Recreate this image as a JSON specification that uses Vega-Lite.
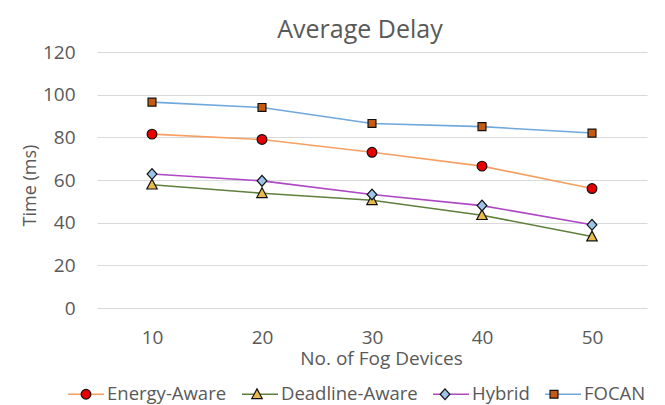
{
  "$schema": "https://vega.github.io/schema/vega-lite/v6.json",
  "width": 550,
  "height": 256,
  "autosize": "none",
  "padding": {"left": 97, "top": 52, "right": 18, "bottom": 97},
  "background": "white",
  "title": {"text": "Average Delay", "fontSize": 25, "font": "Open Sans", "fontWeight": "normal", "color": "#595959", "offset": 0, "dx": -12},
  "data": {"values": [
    {"n": 10, "series": "Energy-Aware", "v": 81.5},
    {"n": 20, "series": "Energy-Aware", "v": 79},
    {"n": 30, "series": "Energy-Aware", "v": 73},
    {"n": 40, "series": "Energy-Aware", "v": 66.5},
    {"n": 50, "series": "Energy-Aware", "v": 56},
    {"n": 10, "series": "Deadline-Aware", "v": 57.8},
    {"n": 20, "series": "Deadline-Aware", "v": 53.8},
    {"n": 30, "series": "Deadline-Aware", "v": 50.5},
    {"n": 40, "series": "Deadline-Aware", "v": 43.5},
    {"n": 50, "series": "Deadline-Aware", "v": 33.5},
    {"n": 10, "series": "Hybrid", "v": 62.8},
    {"n": 20, "series": "Hybrid", "v": 59.6},
    {"n": 30, "series": "Hybrid", "v": 53.2},
    {"n": 40, "series": "Hybrid", "v": 48},
    {"n": 50, "series": "Hybrid", "v": 39},
    {"n": 10, "series": "FOCAN", "v": 96.5},
    {"n": 20, "series": "FOCAN", "v": 94},
    {"n": 30, "series": "FOCAN", "v": 86.5},
    {"n": 40, "series": "FOCAN", "v": 85},
    {"n": 50, "series": "FOCAN", "v": 82}
  ]},
  "encoding": {
    "x": {
      "field": "n", "type": "ordinal",
      "scale": {"type": "point", "padding": 0.5},
      "axis": {"title": "No. of Fog Devices", "labelAngle": 0, "labelFontSize": 19, "labelFont": "Open Sans", "labelColor": "#595959", "labelPadding": 20, "ticks": false, "domain": false, "grid": false, "titleFont": "Open Sans", "titleFontSize": 19, "titleFontWeight": "normal", "titleColor": "#595959", "titlePadding": 2, "titleX": 284}
    },
    "y": {
      "field": "v", "type": "quantitative",
      "scale": {"domain": [0, 120], "nice": false},
      "axis": {"values": [0, 20, 40, 60, 80, 100, 120], "title": "Time (ms)", "labelFontSize": 19, "labelFont": "Open Sans", "labelColor": "#595959", "labelPadding": 22, "ticks": false, "domain": false, "gridColor": "#D9D9D9", "gridWidth": 1.2, "titleFont": "Open Sans", "titleFontSize": 18, "titleFontWeight": "normal", "titleColor": "#595959", "titlePadding": 3, "titleY": 133}
    }
  },
  "layer": [
    {
      "mark": {"type": "line", "strokeWidth": 1.6},
      "encoding": {
        "color": {
          "field": "series", "type": "nominal",
          "scale": {"domain": ["Energy-Aware", "Deadline-Aware", "Hybrid", "FOCAN"], "range": ["#F5A062", "#5E803C", "#AE47C4", "#6FA8DC"]},
          "legend": {"title": null, "orient": "none", "legendX": -30, "legendY": 323, "direction": "horizontal", "columns": 4, "symbolType": "stroke", "symbolSize": 1296, "symbolStrokeWidth": 1.6, "symbolOffset": 0, "labelOffset": 2, "labelFont": "Open Sans", "labelFontSize": 18.5, "labelColor": "#595959", "columnPadding": 11, "padding": 0}
        }
      }
    },
    {
      "mark": {"type": "point", "filled": true, "strokeWidth": 1.2, "size": 1296, "opacity": 1},
      "encoding": {
        "fill": {
          "field": "series", "type": "nominal",
          "scale": {"domain": ["Energy-Aware", "Deadline-Aware", "Hybrid", "FOCAN"], "range": ["#E80000", "#E9BA4C", "#9DC3E6", "#C65A11"]},
          "legend": {"title": null, "orient": "none", "legendX": -30, "legendY": 323, "direction": "horizontal", "columns": 4, "symbolSize": 1296, "symbolStrokeWidth": 1.2, "symbolOffset": 0, "labelOffset": 2, "labelFont": "Open Sans", "labelFontSize": 18.5, "labelOpacity": 0, "columnPadding": 11, "padding": 0}
        },
        "stroke": {
          "field": "series", "type": "nominal",
          "scale": {"domain": ["Energy-Aware", "Deadline-Aware", "Hybrid", "FOCAN"], "range": ["#111111", "#111111", "#111111", "#111111"]},
          "legend": {"title": null, "orient": "none", "legendX": -30, "legendY": 323, "direction": "horizontal", "columns": 4, "symbolSize": 1296, "symbolStrokeWidth": 1.2, "symbolOffset": 0, "labelOffset": 2, "labelFont": "Open Sans", "labelFontSize": 18.5, "labelOpacity": 0, "columnPadding": 11, "padding": 0}
        },
        "shape": {
          "field": "series", "type": "nominal",
          "scale": {"domain": ["Energy-Aware", "Deadline-Aware", "Hybrid", "FOCAN"], "range": [
            "M0.27,0 A0.27,0.27 0 1,1 -0.27,0 A0.27,0.27 0 1,1 0.27,0 Z",
            "M0,-0.3 L0.29,0.24 L-0.29,0.24 Z",
            "M0,-0.3 L0.27,0 L0,0.3 L-0.27,0 Z",
            "M-0.22,-0.22 H0.22 V0.22 H-0.22 Z"
          ]},
          "legend": {"title": null, "orient": "none", "legendX": -30, "legendY": 323, "direction": "horizontal", "columns": 4, "symbolSize": 1296, "symbolStrokeWidth": 1.2, "symbolOffset": 0, "labelOffset": 2, "labelFont": "Open Sans", "labelFontSize": 18.5, "labelOpacity": 0, "columnPadding": 11, "padding": 0}
        }
      }
    }
  ],
  "resolve": {"scale": {"color": "independent", "fill": "independent", "shape": "independent", "stroke": "independent"}},
  "config": {"view": {"stroke": null}}
}
